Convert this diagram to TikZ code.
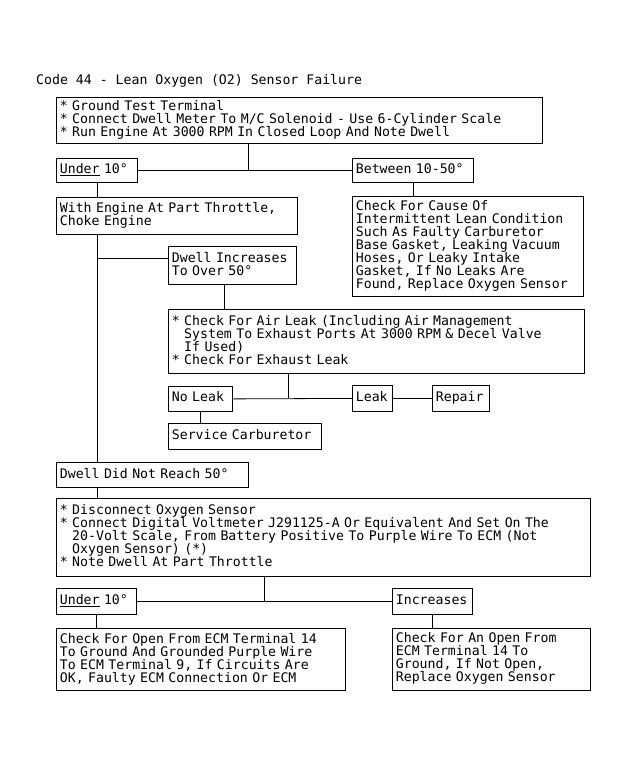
\documentclass[tikz,border=0pt]{standalone}
\usepackage{fontspec}
\usepackage{tikz}
\usepackage{xcolor}
\usetikzlibrary{positioning,calc}
\newfontfamily\dwellfont{DejaVu Sans Mono}
\definecolor{Ink}{HTML}{000000}
\definecolor{Paper}{HTML}{FFFFFF}
\newcommand{\ind}{\hphantom{*\ }}
\newcommand{\boxfont}{\dwellfont\fontsize{13.2pt}{13pt}\selectfont\lineskiplimit=-20pt\relax}
\tikzset{
  box/.style={draw=Ink,anchor=north west,align=left,inner xsep=3.5pt,inner ysep=0pt,font=\boxfont,text=Ink,line width=0.8pt,execute at begin node=\strut,execute at end node=\strut},
  heading/.style={anchor=west,inner sep=0pt,font=\boxfont,text=Ink},
  link/.style={draw=Ink,line width=0.8pt}
}

\begin{document}
\begin{tikzpicture}[x=1pt,y=-1pt]
  \fill[Paper] (0,0) rectangle (631,766);
  \useasboundingbox (0,0) rectangle (631,766);

  \node[heading] (title) at (36,81) {Code 44 - Lean Oxygen (O2) Sensor Failure};

  \node[box,text width=479pt,minimum height=46pt] (test) at (56,97) {* Ground Test Terminal\\{}* Connect Dwell Meter To M/C Solenoid - Use 6-Cylinder Scale\\{}* Run Engine At 3000 RPM In Closed Loop And Note Dwell};
  \node[box,text width=74pt,minimum height=24pt] (under1) at (56,158) {\underline{Under} 10°};
  \node[box,text width=114pt,minimum height=24pt] (between) at (352,158) {Between 10-50°};
  \node[box,text width=234pt,minimum height=37pt] (choke) at (56,197) {With Engine At Part Throttle,\\Choke Engine};
  \node[box,text width=224pt,minimum height=100pt] (cause) at (352,196) {Check For Cause Of\\Intermittent Lean Condition\\Such As Faulty Carburetor\\Base Gasket, Leaking Vacuum\\Hoses, Or Leaky Intake\\Gasket, If No Leaks Are\\Found, Replace Oxygen Sensor};
  \node[box,text width=121pt,minimum height=38pt] (incr) at (168,246) {Dwell Increases\\To Over 50°};
  \node[box,text width=409pt,minimum height=64pt] (airleak) at (168,309) {* Check For Air Leak (Including Air Management\\\ind System To Exhaust Ports At 3000 RPM \& Decel Valve\\\ind If Used)\\{}* Check For Exhaust Leak};
  \node[box,text width=57pt,minimum height=25pt] (noleak) at (168,386) {No Leak};
  \node[box,text width=33pt,minimum height=26pt] (leak) at (352,385) {Leak};
  \node[box,text width=50pt,minimum height=26pt] (repair) at (432,385) {Repair};
  \node[box,text width=146pt,minimum height=26pt] (service) at (168,423) {Service Carburetor};
  \node[box,text width=185pt,minimum height=25pt] (notreach) at (56,462) {Dwell Did Not Reach 50°};
  \node[box,text width=527pt,minimum height=78pt] (disconnect) at (56,498) {* Disconnect Oxygen Sensor\\{}* Connect Digital Voltmeter J291125-A Or Equivalent And Set On The\\\ind 20-Volt Scale, From Battery Positive To Purple Wire To ECM (Not\\\ind Oxygen Sensor) (*)\\{}* Note Dwell At Part Throttle};
  \node[box,text width=73pt,minimum height=26pt] (under2) at (56,588) {\underline{Under} 10°};
  \node[box,text width=73pt,minimum height=26pt] (increases) at (392,588) {Increases};
  \node[box,text width=282pt,minimum height=62pt] (openecm) at (56,628) {Check For Open From ECM Terminal 14\\To Ground And Grounded Purple Wire\\To ECM Terminal 9, If Circuits Are\\OK, Faulty ECM Connection Or ECM};
  \node[box,text width=191pt,minimum height=62pt] (openan) at (392,628) {Check For An Open From\\ECM Terminal 14 To\\Ground, If Not Open,\\Replace Oxygen Sensor};

  \coordinate (fork1) at (248,170);
  \coordinate (fork2) at (288,398);
  \coordinate (fork3) at (264,601);

  \draw[link] (test.south -| fork1) -- (fork1);
  \draw[link] (under1.east) -- (between.west);
  \draw[link] (under1.south) -- (under1.south |- choke.north);
  \draw[link] (between.south) -- (between.south |- cause.north);
  \draw[link] (under1.south |- choke.south) -- (under1.south |- notreach.north);
  \draw[link] ([yshift=7pt]incr.west) -- ([yshift=7pt]incr.west -| under1.south);
  \draw[link] ([xshift=-8pt]incr.south) -- ([xshift=-8pt]incr.south |- airleak.north);
  \draw[link] (airleak.south -| fork2) -- (fork2);
  \draw[link] (noleak.east) -- (leak.west);
  \draw[link] (leak.east) -- (repair.west);
  \draw[link] (noleak.south) -- (noleak.south |- service.north);
  \draw[link] (notreach.south -| under1.south) -- (disconnect.north -| under1.south);
  \draw[link] (disconnect.south -| fork3) -- (fork3);
  \draw[link] (under2.east) -- (increases.west);
  \draw[link] (under2.south) -- (under2.south |- openecm.north);
  \draw[link] (increases.south) -- (increases.south |- openan.north);
\end{tikzpicture}
\end{document}
